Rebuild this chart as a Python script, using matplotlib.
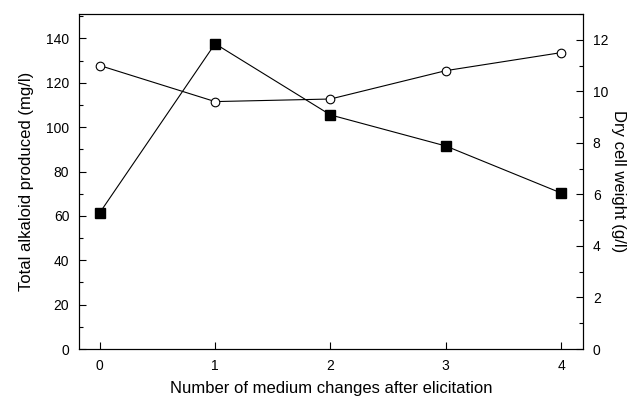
import matplotlib
matplotlib.use("Agg")
import matplotlib.pyplot as plt
from matplotlib.ticker import MultipleLocator

plt.rcParams['font.family'] = ['Liberation Sans', 'DejaVu Sans']

changes = [0, 1, 2, 3, 4]
alkaloid = [61.4, 137.6, 105.5, 91.5, 70.3]      # mg/l, left axis (filled squares)
dry_weight = [11.0, 9.6, 9.7, 10.8, 11.5]         # g/l, right axis (open circles)
xticks = [0, 1, 2, 3, 4]
left_ticks = [0, 20, 40, 60, 80, 100, 120, 140]
right_ticks = [0, 2, 4, 6, 8, 10, 12]

fig = plt.figure(figsize=(6.4, 3.99), dpi=100)
ax = fig.add_axes([0.1234, 0.1253, 0.911 - 0.1234, 0.965 - 0.1253])
ax2 = ax.twinx()

ax.plot(changes, alkaloid, color='black', lw=0.8, marker='s', ms=7,
        mfc='black', mec='black', zorder=3)
ax2.plot(changes, dry_weight, color='black', lw=0.8, marker='o', ms=6.2,
         mfc='white', mec='black', mew=0.8, zorder=3)

ax.set_xlim(-0.18, 4.19)
ax.set_ylim(0, 151)
ax2.set_ylim(0, 13)
ax.set_xticks(xticks)
ax.set_yticks(left_ticks)
ax2.set_yticks(right_ticks)
ax.yaxis.set_minor_locator(MultipleLocator(10))
ax2.yaxis.set_minor_locator(MultipleLocator(1))

for a in (ax, ax2):
    a.tick_params(direction='in', length=5, width=0.8, labelsize=10, pad=7)
    a.tick_params(which='minor', direction='in', length=3, width=0.8)
    for s in a.spines.values():
        s.set_linewidth(0.8)

ax.set_xlabel('Number of medium changes after elicitation', fontsize=12, labelpad=6)
ax.set_ylabel('Total alkaloid produced (mg/l)', fontsize=12, labelpad=9)
ax2.set_ylabel('Dry cell weight (g/l)', fontsize=12, rotation=270, labelpad=13)

fig.savefig('out.png', dpi=100)
